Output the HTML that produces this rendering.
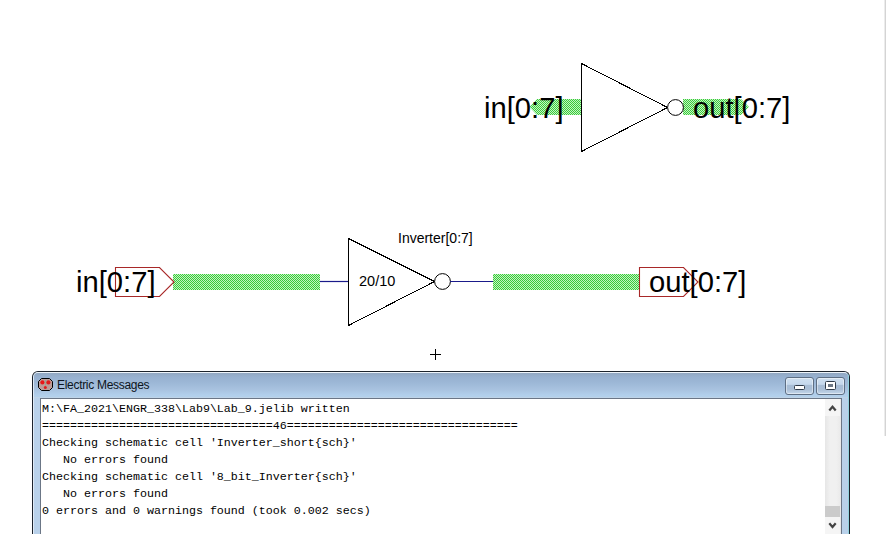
<!DOCTYPE html>
<html><head><meta charset="utf-8">
<style>
html,body{margin:0;padding:0;background:#fff;width:886px;height:534px;overflow:hidden;position:relative;font-family:"Liberation Sans",sans-serif;}
.abs{position:absolute;}
#sch{position:absolute;left:0;top:0;}
.lbl{position:absolute;white-space:nowrap;color:#000;line-height:1;}
#win{position:absolute;left:32px;top:371px;width:818px;height:200px;box-sizing:border-box;border:1px solid #1c232c;border-bottom:none;border-radius:6px 6px 0 0;background:#b9d1ea;}
#title{position:absolute;left:24px;top:6px;font-size:12px;line-height:14px;letter-spacing:-0.3px;color:#0c1420;white-space:nowrap;}
#client{position:absolute;left:7px;top:26px;width:802px;height:180px;box-sizing:border-box;border:1px solid #6b7686;background:#fff;}
#msg{position:absolute;left:1px;top:2px;font-family:"Liberation Mono",monospace;font-size:11.67px;line-height:17px;color:#000;white-space:pre;}
#sb{position:absolute;left:784px;top:0;width:16px;bottom:0;background:linear-gradient(90deg,#e6e6e6,#f0f0f0 30%,#f0f0f0 70%,#e9e9e9);}
.btn{position:absolute;top:5px;height:18px;box-sizing:border-box;border:1px solid #5e6f84;border-radius:3px;background:linear-gradient(#d0e0f0 0%,#c5d8ec 40%,#a8bdd5 44%,#a9bed6 70%,#c4d7eb 100%);box-shadow:inset 0 0 0 1px rgba(255,255,255,.45);}
</style></head><body>
<svg id="sch" width="886" height="534">
<defs>
<pattern id="chk" width="2" height="2" patternUnits="userSpaceOnUse">
<rect width="2" height="2" fill="#c2f6c2"/>
<rect x="0" y="0" width="1" height="1" fill="#3cc83c"/>
<rect x="1" y="1" width="1" height="1" fill="#3cc83c"/>
</pattern>
</defs>
<rect x="884" y="0" width="1" height="436" fill="#ececec"/>
<rect x="885" y="0" width="1" height="436" fill="#d4d4d4"/>
<!-- top inverter -->
<polygon points="529.5,107 537,99 581,99 581,115 537,115" fill="url(#chk)"/>
<polygon points="683,99 741,99 749,107 741,115 683,115" fill="url(#chk)"/>
<polygon points="581.5,63.5 581.5,151.5 667.5,107.5" fill="none" stroke="#000" stroke-width="1" shape-rendering="crispEdges"/>
<circle cx="675.5" cy="107.5" r="7.9" fill="#fff" stroke="#000" stroke-width="1"/>
<!-- bottom -->
<rect x="173" y="274" width="147" height="16" fill="url(#chk)"/>
<line x1="320" y1="281.5" x2="348" y2="281.5" stroke="#1a1a8a" stroke-width="1.2"/>
<polygon points="348.5,238.5 348.5,325.5 434.5,281.5" fill="none" stroke="#000" stroke-width="1" shape-rendering="crispEdges"/>
<circle cx="442.5" cy="281.5" r="7.9" fill="#fff" stroke="#000" stroke-width="1"/>
<line x1="450" y1="281.5" x2="493" y2="281.5" stroke="#1a1a8a" stroke-width="1.2"/>
<rect x="493" y="274" width="146" height="16" fill="url(#chk)"/>
<polygon points="115.5,267.5 159.5,267.5 174,282 159.5,296.5 115.5,296.5" fill="none" stroke="#a82828" stroke-width="1.1"/>
<polygon points="639.5,267.5 683.5,267.5 698,282 683.5,296.5 639.5,296.5" fill="none" stroke="#a82828" stroke-width="1.1"/>
<line x1="430" y1="354.5" x2="441" y2="354.5" stroke="#000"/>
<line x1="435.5" y1="349" x2="435.5" y2="360" stroke="#000"/>
</svg>
<div class="lbl" style="left:484px;top:94px;font-size:29.2px;">in[0:7]</div>
<div class="lbl" style="left:693px;top:94px;font-size:29.2px;">out[0:7]</div>
<div class="lbl" style="left:76px;top:268px;font-size:29.2px;">in[0:7]</div>
<div class="lbl" style="left:649px;top:268px;font-size:29.2px;">out[0:7]</div>
<div class="lbl" style="left:359px;top:274px;font-size:14.5px;">20/10</div>
<div class="lbl" style="left:398px;top:231px;font-size:14px;">Inverter[0:7]</div>

<div id="win">
<div class="abs" style="left:0;top:0;width:814px;height:200px;border-top:1px solid rgba(255,255,255,.75);border-left:1px solid rgba(255,255,255,.55);border-right:1px solid #92d2de;border-radius:5px 5px 0 0;"></div>
<div class="abs" style="left:1px;top:1px;width:814px;height:25px;background:linear-gradient(#92a8c2 0%,#97b1d0 16%,#9db8d7 40%,#a9c3e0 68%,#b1cfeb 88%,#b3d0ea 95%,#c6d6e6 100%);border-radius:4px 4px 0 0;"></div>
<svg class="abs" style="left:5px;top:6px" width="15" height="13"><polygon points="3.5,0.5 11.5,0.5 14.5,3.5 14.5,9.5 11.5,12.5 3.5,12.5 0.5,9.5 0.5,3.5" fill="#bc9c98" stroke="#000"/><rect x="7" y="2" width="1" height="9" fill="#9aa890"/><circle cx="4.4" cy="4.4" r="2.1" fill="#e81818"/><circle cx="10.4" cy="4.4" r="2.1" fill="#e01c1c"/><circle cx="7.3" cy="9.4" r="1.5" fill="#e01c1c"/></svg>
<div id="title">Electric Messages</div>
<div class="btn" style="left:752px;width:29px;"><div class="abs" style="left:8px;top:7px;width:11px;height:5px;box-sizing:border-box;border:1px solid #2f3a48;background:#fff;border-radius:1.5px;"></div></div>
<div class="btn" style="left:783px;width:29px;"><div class="abs" style="left:8px;top:3px;width:11px;height:9px;box-sizing:border-box;border:1px solid #2f3a48;background:#fff;border-radius:1.5px;"><div class="abs" style="left:2px;top:2px;width:5px;height:3px;background:#6c7784;"></div></div></div>
<div id="client">
<div id="msg">M:\FA_2021\ENGR_338\Lab9\Lab_9.jelib written
=================================46=================================
Checking schematic cell 'Inverter_short{sch}'
   No errors found
Checking schematic cell '8_bit_Inverter{sch}'
   No errors found
0 errors and 0 warnings found (took 0.002 secs)</div>
<div id="sb">
<svg class="abs" style="left:0;top:0" width="16" height="140">
<rect x="0" y="0" width="15" height="17" fill="#f5f5f5"/>
<rect x="0" y="118" width="15" height="17" fill="#f5f5f5"/>
<polyline points="4.3,11.5 7.5,7.8 10.7,11.5" fill="none" stroke="#444" stroke-width="2.2" stroke-linecap="butt" stroke-linejoin="miter"/>
<rect x="0" y="107" width="15" height="11" fill="#cbcbcb"/>
<polyline points="4.3,124.3 7.5,128 10.7,124.3" fill="none" stroke="#444" stroke-width="2.2" stroke-linecap="butt" stroke-linejoin="miter"/>
</svg>
</div>
</div>
</div>
</body></html>
